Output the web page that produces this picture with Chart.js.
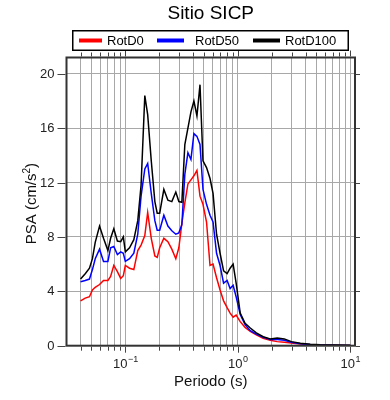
<!DOCTYPE html>
<html>
<head>
<meta charset="utf-8">
<script src="https://cdn.jsdelivr.net/npm/chart.js@4"></script>
<style>
html,body{margin:0;padding:0;background:#fff;}
#wrap{width:390px;height:400px;position:relative;}
</style>
</head>
<body>
<div id="wrap"><canvas id="c" width="390" height="400"></canvas></div>
<script>
// ---- data ----
const periods = [0.040,0.044,0.048,0.051,0.054,0.059,0.064,0.070,0.074,0.079,0.085,0.091,0.096,0.100,0.109,0.119,0.129,0.138,0.149,0.158,0.170,0.183,0.192,0.202,0.220,0.239,0.259,0.281,0.299,0.318,0.338,0.360,0.383,0.407,0.433,0.461,0.490,0.527,0.566,0.602,0.647,0.695,0.747,0.803,0.854,0.908,0.966,1.05,1.16,1.29,1.46,1.68,1.94,2.24,2.59,2.99,3.6,4.4,5.4,7.4,10.0];
const rotD0 = [3.3,3.5,3.6,4.1,4.3,4.5,4.8,4.8,5.1,5.9,5.45,4.95,5.15,5.9,5.7,5.6,7.0,7.4,8.1,9.8,7.9,6.6,6.5,7.2,7.9,7.65,7.1,6.4,7.2,9.0,10.5,11.9,12.2,12.5,12.9,11.0,10.4,9.1,5.9,6.0,5.0,4.1,3.3,2.8,2.4,2.1,2.25,1.77,1.35,1.05,0.8,0.54,0.4,0.3,0.25,0.2,0.12,0.07,0.05,0.03,0.02];
const rotD50 = [4.7,4.8,4.9,5.6,6.4,7.1,6.2,6.2,7.2,7.3,6.7,6.9,6.8,6.2,6.4,6.8,8.2,11.0,13.0,13.4,11.2,9.2,8.5,8.5,9.6,8.8,8.45,8.2,8.3,8.9,12.6,14.2,13.7,15.6,15.4,14.8,11.5,10.4,9.6,9.1,6.8,5.9,4.6,4.8,4.2,4.45,3.6,2.3,1.55,1.1,0.85,0.62,0.45,0.45,0.4,0.25,0.15,0.08,0.06,0.04,0.02];
const rotD100 = [4.9,5.3,5.7,6.4,7.6,8.8,7.9,7.0,7.9,8.6,7.7,7.65,8.0,6.9,7.2,7.8,9.2,11.8,18.4,17.0,13.6,10.6,9.75,9.75,11.5,10.7,10.6,11.3,10.6,10.55,14.8,16.0,17.2,18.0,16.9,19.2,13.6,13.1,12.3,11.2,8.2,6.8,5.5,5.3,5.7,6.0,4.6,2.4,1.65,1.3,0.95,0.66,0.5,0.56,0.5,0.3,0.18,0.1,0.07,0.05,0.03];
const seriesNames = ['RotD0','RotD50','RotD100'];
const seriesColors = ['#ff0000','#0000ff','#000000'];
const yTickValues = [0,4,8,12,16,20];
const xGridValues = [0.04,0.05,0.06,0.07,0.08,0.09,0.1,0.2,0.3,0.4,0.5,0.6,0.7,0.8,0.9,1,2,3,4,5,6,7,8,9,10];
const xLabelValues = [0.1,1,10];
const xLabelExps = ['\u22121','0','1'];
const titleText = 'Sitio SICP';
const xTitle = 'Periodo (s)';

const FONT = '"Liberation Sans", Arial, Helvetica, sans-serif';

const seriesValues = [rotD0, rotD50, rotD100];
const datasets = seriesValues.map((vals, i) => ({
  label: seriesNames[i],
  data: periods.map((p, j) => ({x: p, y: vals[j]})),
  borderColor: seriesColors[i],
  backgroundColor: seriesColors[i],
  borderWidth: 1.5,
  pointRadius: 0,
  tension: 0,
  fill: false,
  order: 2 - i
}));

function line(ctx, x1, y1, x2, y2) {
  ctx.beginPath(); ctx.moveTo(x1, y1); ctx.lineTo(x2, y2); ctx.stroke();
}

const decor = {
  id: 'decor',
  afterDraw(chart) {
    const {ctx, chartArea: a, scales: {x, y}} = chart;
    ctx.save();
    // frame
    ctx.strokeStyle = '#333';
    ctx.lineWidth = 2;
    ctx.strokeRect(a.left, a.top, a.right - a.left, a.bottom - a.top);
    // x ticks top & bottom
    ctx.lineWidth = 1;
    ctx.strokeStyle = '#444';
    for (const v of xGridValues) {
      const px = Math.round(x.getPixelForValue(v)) + 0.5;
      const major = xLabelValues.includes(v);
      const len = major ? 6 : 4;
      line(ctx, px, a.bottom + 1, px, a.bottom + 1 + len);
      line(ctx, px, a.top - 1, px, a.top - 1 - len);
    }
    // y ticks left & right
    for (const v of yTickValues) {
      const py = Math.round(y.getPixelForValue(v)) + 0.5;
      line(ctx, a.left - 1, py, a.left - 9, py);
      line(ctx, a.right + 1, py, a.right + 5, py);
    }
    // y tick labels
    ctx.fillStyle = '#222';
    ctx.font = '13px ' + FONT;
    ctx.textAlign = 'right';
    ctx.textBaseline = 'middle';
    for (const v of yTickValues) {
      ctx.fillText(String(v), a.left - 12, y.getPixelForValue(v) + 0.5);
    }
    // x tick labels 10^n
    ctx.textBaseline = 'alphabetic';
    xLabelValues.forEach((v, i) => {
      const px = x.getPixelForValue(v);
      ctx.font = '13px ' + FONT;
      const wb = ctx.measureText('10').width;
      ctx.font = '9px ' + FONT;
      const we = ctx.measureText(xLabelExps[i]).width;
      const left = px - (wb + we) / 2;
      ctx.textAlign = 'left';
      ctx.font = '13px ' + FONT;
      ctx.fillText('10', left, a.bottom + 22);
      ctx.font = '9px ' + FONT;
      ctx.fillText(xLabelExps[i], left + wb + 0.5, a.bottom + 16);
    });
    // x title
    ctx.fillStyle = '#111';
    ctx.font = '15px ' + FONT;
    ctx.textAlign = 'center';
    ctx.textBaseline = 'middle';
    ctx.fillText(xTitle, (a.left + a.right) / 2, 382);
    // y title rotated: PSA (cm/s^2)
    ctx.save();
    ctx.translate(31, (a.top + a.bottom) / 2 + 2);
    ctx.rotate(-Math.PI / 2);
    const p1 = 'PSA (cm/s', p2 = '2', p3 = ')';
    ctx.font = '15px ' + FONT;
    const w1 = ctx.measureText(p1).width, w3 = ctx.measureText(p3).width;
    ctx.font = '10px ' + FONT;
    const w2 = ctx.measureText(p2).width;
    const tot = w1 + w2 + w3;
    ctx.textAlign = 'left';
    ctx.textBaseline = 'alphabetic';
    ctx.font = '15px ' + FONT;
    ctx.fillText(p1, -tot / 2, 5);
    ctx.font = '10px ' + FONT;
    ctx.fillText(p2, -tot / 2 + w1, -1);
    ctx.font = '15px ' + FONT;
    ctx.fillText(p3, -tot / 2 + w1 + w2, 5);
    ctx.restore();
    // title
    ctx.fillStyle = '#000';
    ctx.font = '19px ' + FONT;
    ctx.textAlign = 'center';
    ctx.textBaseline = 'middle';
    ctx.fillText(titleText, (a.left + a.right) / 2, 14);
    // legend box
    ctx.strokeStyle = '#000';
    ctx.lineWidth = 1.5;
    ctx.strokeRect(72.75, 30.75, 275.5, 19.5);
    const legX = [[79, 102, 107], [157, 184, 195], [253, 280, 285]];
    ctx.font = '13px ' + FONT;
    ctx.textAlign = 'left';
    ctx.textBaseline = 'middle';
    seriesNames.forEach((n, i) => {
      ctx.strokeStyle = seriesColors[i];
      ctx.lineWidth = 4;
      line(ctx, legX[i][0], 40.5, legX[i][1], 40.5);
      ctx.fillStyle = '#000';
      ctx.fillText(n, legX[i][2], 41);
    });
    ctx.restore();
  }
};

new Chart(document.getElementById('c'), {
  type: 'line',
  data: {datasets},
  options: {
    responsive: false,
    animation: false,
    devicePixelRatio: 1,
    layout: {padding: {top: 57.5, right: 35, left: 0, bottom: 0}},
    plugins: {legend: {display: false}, title: {display: false}, tooltip: {enabled: false}},
    scales: {
      x: {
        type: 'logarithmic',
        min: 0.03,
        max: 11,
        afterBuildTicks(s) { s.ticks = xGridValues.map(v => ({value: v})); },
        afterFit(s) { s.height = 54.3; },
        ticks: {display: false},
        grid: {color: '#a8a8a8', lineWidth: 1, drawTicks: false},
        border: {display: false}
      },
      y: {
        type: 'linear',
        min: 0,
        max: 21.2,
        afterBuildTicks(s) { s.ticks = yTickValues.map(v => ({value: v})); },
        afterFit(s) { s.width = 66.5; },
        ticks: {display: false},
        grid: {color: '#a8a8a8', lineWidth: 1, drawTicks: false},
        border: {display: false}
      }
    }
  },
  plugins: [decor]
});
</script>
</body>
</html>
